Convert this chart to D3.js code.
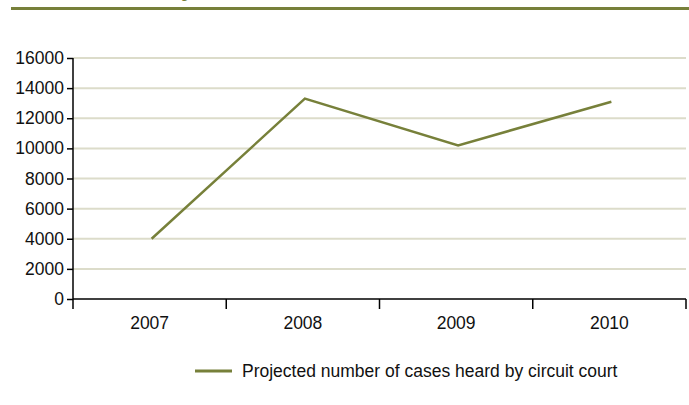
<!DOCTYPE html>
<html>
<head>
<meta charset="utf-8">
<script src="https://cdn.jsdelivr.net/npm/d3@7"></script>
<style>
  body { margin: 0; background: #fff; }
  svg { display: block; font-family: "Liberation Sans", Arial, sans-serif; }
</style>
</head>
<body>
<div id="chart"></div>
<script>
// Chart data
const years = ['2007', '2008', '2009', '2010'];
const casesHeard = [4000, 13300, 10200, 13100];
const yTicks = [0, 2000, 4000, 6000, 8000, 10000, 12000, 14000, 16000];
const seriesName = 'Projected number of cases heard by circuit court';

const width = 689, height = 405;
const margin = { top: 58, right: 3, bottom: 106, left: 73 };
const olive = '#77803a';
const fontSize = '17.5px';

const svg = d3.select('#chart')
  .append('svg')
  .attr('width', width)
  .attr('height', height);

// Header rule with the cut-off title descender above it
svg.append('text')
  .attr('x', 181)
  .attr('y', -4)
  .attr('font-size', '24px')
  .attr('font-weight', 'bold')
  .attr('fill', olive)
  .text('y');

svg.append('rect')
  .attr('x', 11)
  .attr('y', 7)
  .attr('width', width - 11)
  .attr('height', 3)
  .attr('fill', olive);

const x = d3.scaleBand()
  .domain(years)
  .range([margin.left, width - margin.right]);

const y = d3.scaleLinear()
  .domain([0, 16000])
  .range([height - margin.bottom, margin.top]);

// Gridlines
svg.append('g')
  .selectAll('line')
  .data(yTicks.filter(d => d > 0))
  .enter()
  .append('line')
  .attr('x1', margin.left)
  .attr('x2', width - margin.right)
  .attr('y1', d => y(d))
  .attr('y2', d => y(d))
  .attr('stroke', '#dcdcca')
  .attr('stroke-width', 2);

// Y axis
const yAxis = svg.append('g')
  .attr('transform', `translate(${margin.left},0)`)
  .call(d3.axisLeft(y).tickValues(yTicks).tickSize(6).tickPadding(3).tickFormat(d3.format('d')));

// X axis
const xAxis = svg.append('g')
  .attr('transform', `translate(0,${y(0)})`)
  .call(d3.axisBottom(x).tickSize(0).tickPadding(18));

// Band-edge ticks on the x axis
svg.append('g')
  .selectAll('line')
  .data(years.map(d => x(d)).concat([x(years[years.length - 1]) + x.bandwidth()]))
  .enter()
  .append('line')
  .attr('x1', d => d)
  .attr('x2', d => d)
  .attr('y1', y(0))
  .attr('y2', y(0) + 10)
  .attr('stroke', '#000')
  .attr('stroke-width', 1.5);

[yAxis, xAxis].forEach(g => {
  g.select('.domain').attr('stroke', '#000').attr('stroke-width', 1.5);
  g.selectAll('.tick line').attr('stroke', '#000').attr('stroke-width', 1.5);
  g.selectAll('.tick text').attr('font-size', fontSize).attr('fill', '#111');
});
yAxis.select('.domain').attr('d', `M-0,${y(16000)}V${y(0)}`);
xAxis.select('.domain').attr('d', `M${margin.left},0H${width - margin.right}`);

// Series line
const line = d3.line()
  .x((d, i) => x(years[i]) + x.bandwidth() / 2 + 2)
  .y(d => y(d));

svg.append('path')
  .datum(casesHeard)
  .attr('d', line)
  .attr('fill', 'none')
  .attr('stroke', olive)
  .attr('stroke-width', 2.5);

// Legend
const legend = svg.append('g').attr('transform', 'translate(195,371)');
legend.append('line')
  .attr('x1', 0)
  .attr('x2', 37)
  .attr('stroke', olive)
  .attr('stroke-width', 3);
legend.append('text')
  .attr('x', 47)
  .attr('y', 6)
  .attr('font-size', fontSize)
  .attr('fill', '#111')
  .text(seriesName);
</script>
</body>
</html>
